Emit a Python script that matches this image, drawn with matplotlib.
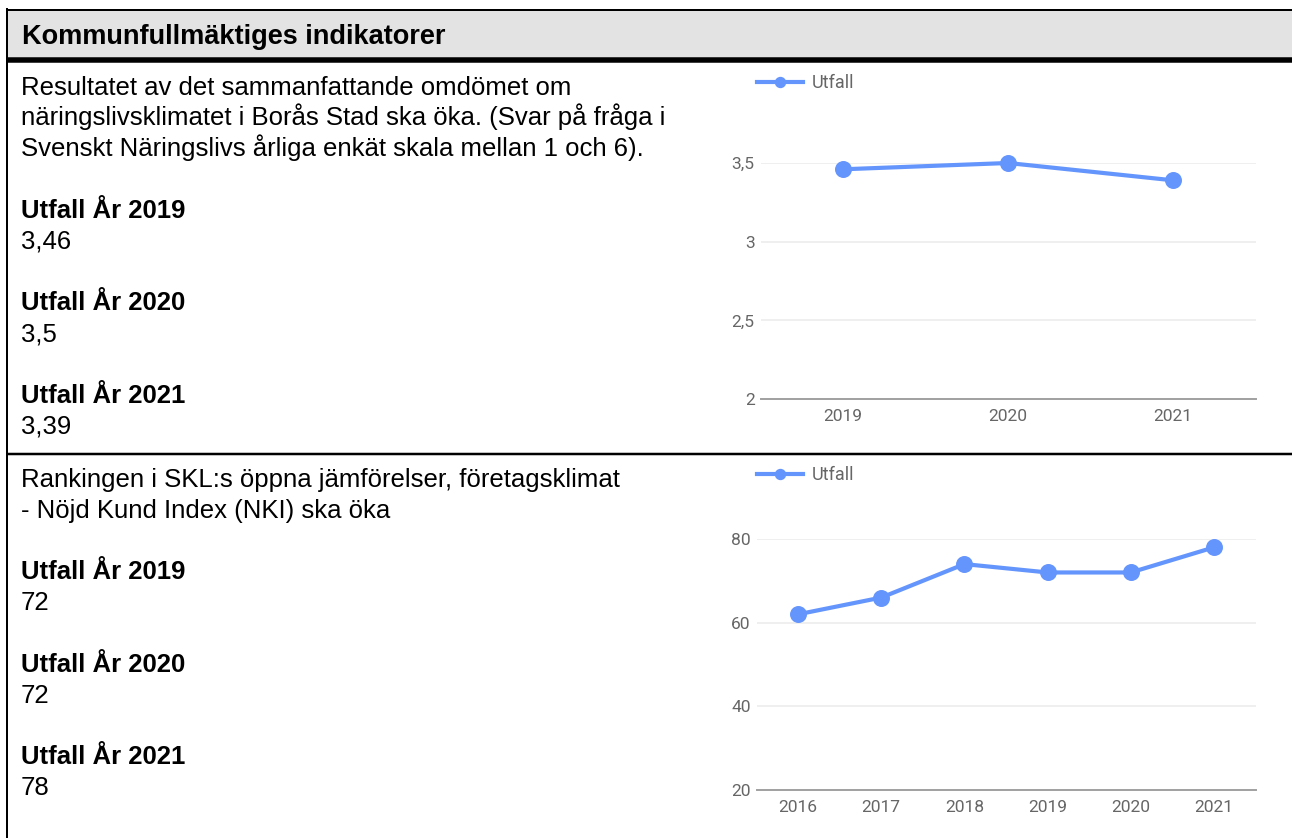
import matplotlib
matplotlib.use("Agg")
import matplotlib.pyplot as plt
from matplotlib.lines import Line2D
from matplotlib.patches import Rectangle

W, H = 1292, 838

# chart data
years1 = ["2019", "2020", "2021"]
utfall1 = [3.46, 3.5, 3.39]
yticks1 = [2, 2.5, 3, 3.5]
ylabels1 = ["2", "2,5", "3", "3,5"]

years2 = ["2016", "2017", "2018", "2019", "2020", "2021"]
utfall2 = [62, 66, 74, 72, 72, 78]
yticks2 = [20, 40, 60, 80]
ylabels2 = ["20", "40", "60", "80"]

# table text
title = "Kommunfullmäktiges indikatorer"
desc1 = [
    "Resultatet av det sammanfattande omdömet om",
    "näringslivsklimatet i Borås Stad ska öka. (Svar på fråga i",
    "Svenskt Näringslivs årliga enkät skala mellan 1 och 6).",
]
desc2 = [
    "Rankingen i SKL:s öppna jämförelser, företagsklimat",
    "- Nöjd Kund Index (NKI) ska öka",
]
headings = ["Utfall År 2019", "Utfall År 2020", "Utfall År 2021"]
values1 = ["3,46", "3,5", "3,39"]
values2 = ["72", "72", "78"]

BLUE = "#6495fd"
TXT_FONT = ["Liberation Sans", "DejaVu Sans"]
TXT_SIZE = 18.5
LINE = 30.8


def fx(x):
    return x / W


def fy(y):
    return 1 - y / H


def hline(fig, y, x0, x1, px):
    fig.add_artist(Line2D([fx(x0), fx(x1)], [fy(y), fy(y)], lw=px * 0.72, color="black",
                          solid_capstyle="butt"))


def text_block(fig, desc, values, y0):
    lines = [(t, "normal") for t in desc]
    for h, v in zip(headings, values):
        lines += [None, (h, "bold"), (v, "normal")]
    for i, item in enumerate(lines):
        if item is None:
            continue
        fig.text(fx(21), fy(y0 + i * LINE), item[0], family=TXT_FONT, fontsize=TXT_SIZE,
                 fontweight=item[1], va="baseline", ha="left", color="black")


def chart(fig, left, right, top, bottom, cats, vals, yticks, ylabels, legend_y):
    ax = fig.add_axes([fx(left), fy(bottom), (right - left) / W, (bottom - top) / H])
    x = list(range(len(cats)))
    ax.plot(x, vals, color=BLUE, lw=3.0, marker="o", ms=11.2, label="Utfall",
            clip_on=False, zorder=3)
    ax.set_xlim(-0.5, len(cats) - 0.5)
    ax.set_ylim(yticks[0], yticks[-1])
    ax.set_yticks(yticks, ylabels)
    ax.set_xticks(x, cats)
    for s in ["top", "left", "right"]:
        ax.spines[s].set_visible(False)
    ax.spines["bottom"].set_color("#a0a0a0")
    ax.spines["bottom"].set_linewidth(1.4)
    ax.set_axisbelow(True)
    ax.grid(axis="y", color="#ebebeb", lw=1.1)
    ax.tick_params(axis="both", length=0, labelsize=12.5, labelcolor="#666666")
    ax.tick_params(axis="x", pad=7.0)
    ax.tick_params(axis="y", pad=4.3)
    ax.set_facecolor("none")
    leg = ax.legend(loc="center left", bbox_to_anchor=(fx(757), fy(legend_y)),
                    bbox_transform=fig.transFigure, frameon=False, borderpad=0,
                    borderaxespad=0, handlelength=2.55, handletextpad=0.5,
                    markerscale=0.64, fontsize=13)
    for t in leg.get_texts():
        t.set_color("#666666")
    return ax


plt.rcParams["font.family"] = ["Roboto", "DejaVu Sans"]
fig = plt.figure(figsize=(W / 100, H / 100), dpi=100)
fig.patch.set_facecolor("white")

# header band
fig.add_artist(Rectangle((fx(7), fy(58)), fx(1292) - fx(7), (58 - 10) / H,
                         facecolor="#e3e3e3", edgecolor="none", zorder=0))
hline(fig, 10, 6, 1292, 2)
hline(fig, 60, 6, 1292, 5.5)
hline(fig, 454.5, 6, 1292, 2.5)
fig.add_artist(Line2D([fx(7), fx(7)], [fy(9), fy(838)], lw=2 * 0.72, color="black"))

fig.text(fx(21.5), fy(44), title, family=TXT_FONT, fontsize=19.5,
         fontweight="bold", va="baseline", ha="left")

text_block(fig, desc1, values1, 94.7)
text_block(fig, desc2, values2, 487)

chart(fig, 760.5, 1255.5, 163, 399, years1, utfall1, yticks1, ylabels1, 83)
chart(fig, 756.5, 1255.5, 539, 790, years2, utfall2, yticks2, ylabels2, 475)

fig.savefig("out.png", dpi=100)
